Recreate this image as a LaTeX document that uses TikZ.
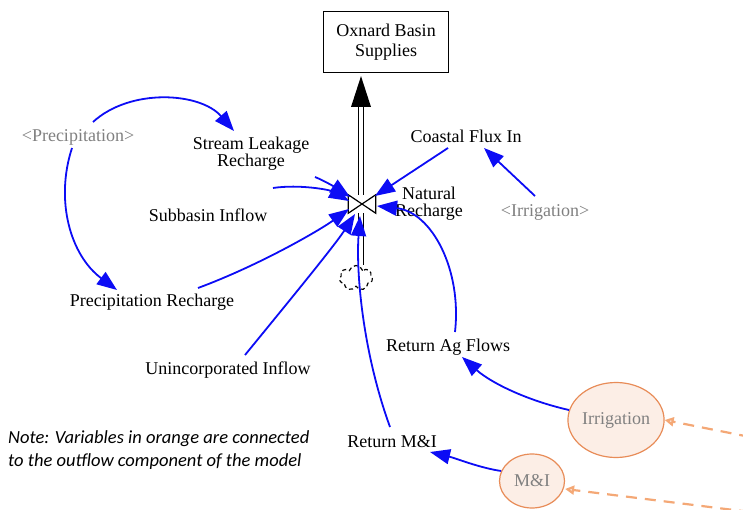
\documentclass[tikz,border=0pt]{standalone}
\usepackage{fontspec}
\setmainfont{Liberation Serif}
\newfontfamily\notefont{Carlito}
\usetikzlibrary{arrows.meta,calc,shapes.geometric,shapes.symbols}
\definecolor{linkblue}{RGB}{12,12,245}
\definecolor{orangeline}{RGB}{232,140,88}
\definecolor{orangefill}{RGB}{252,238,230}
\definecolor{orangedash}{RGB}{244,168,118}
\definecolor{ghostgray}{RGB}{128,128,128}
\tikzset{
  lbl/.style={font=\fontsize{18}{18}\selectfont, align=center, inner sep=1pt},
  ghost/.style={lbl, text=ghostgray},
  link/.style={draw=linkblue, line width=1.8pt, -{Triangle[length=20pt,width=15pt]}},
  outvar/.style={ellipse, draw=orangeline, line width=1.2pt, fill=orangefill,
    text=ghostgray, font=\fontsize{18}{18}\selectfont, inner sep=0pt},
  outlink/.style={draw=orangedash, line width=2.2pt, dash pattern=on 11pt off 8pt,
    -{Triangle[length=9pt,width=9pt,fill=orangefill]}},
}
\begin{document}
\begin{tikzpicture}[x=1pt,y=-1pt]
\useasboundingbox (0,0) rectangle (743,510);

% stock
\node[draw, line width=1.3pt, minimum width=125pt, minimum height=61pt,
  align=center, font=\fontsize{18}{20}\selectfont] (box) at (386,42)
  {Oxnard Basin\\Supplies};

% valve and source cloud
\node[minimum width=27pt, minimum height=18pt, inner sep=0pt] (valve) at (362,204) {};
\node[cloud, cloud puffs=7, draw, line width=1.2pt, dash pattern=on 4pt off 3pt,
  minimum width=33pt, minimum height=25pt, inner sep=0pt] (cloud) at (356,278) {};

% flow pipe
\coordinate (headbase) at (361,107);
\draw[double distance=4pt, line width=1.1pt] (valve.north -| headbase) -- (headbase);
\draw[double distance=4pt, line width=1.1pt] (valve.south -| headbase) -- (cloud.north -| headbase);
\fill ($(headbase)+(-10,0)$) -- ($(headbase)+(10,0)$) -- ($(headbase |- box.south)+(0,3)$) -- cycle;
\draw[line width=1.2pt, fill=white]
  (valve.north west) -- (valve.south east) -- (valve.north east) -- (valve.south west) -- cycle;

% variables
\node[ghost] (precip) at (78,137) {<Precipitation>};
\node[lbl] (slr) at (251,154) {Stream Leakage\\[-1pt]Recharge};
\node[lbl] (sub) at (208,215) {Subbasin Inflow};
\node[lbl] (prec) at (152,302) {Precipitation Recharge};
\node[lbl] (unin) at (228,370) {Unincorporated Inflow};
\node[lbl] (coast) at (466,136) {Coastal Flux In};
\node[lbl, font=\fontsize{18}{17}\selectfont] (nat) at (429,204) {Natural\\Recharge};
\node[ghost] (irrg) at (545,212) {<Irrigation>};
\node[lbl] (retag) at (448,347) {Return Ag Flows};
\node[lbl] (retmi) at (392,442) {Return M\&I};
\node[outvar, minimum width=90pt, minimum height=75pt] (irr) at (616,420) {Irrigation};
\node[outvar, minimum width=65pt, minimum height=54pt] (mi) at (532,481) {M\&I};

% links
\draw[link] ($(precip)+(15,-15)$) .. controls (130,88) and (200,92) .. ($(slr)+(-17,-23)$);
\draw[link] ($(precip)+(-6,11)$) .. controls (55,200) and (70,255) .. ($(prec)+(-35,-12)$);
\draw[link] ($(slr)+(64,23)$) .. controls (325,181) and (338,189) .. ($(valve)+(-12,-7)$);
\draw[link] ($(sub)+(65,-27)$) .. controls (300,184) and (330,190) .. ($(valve)+(-13,-3)$);
\draw[link] ($(prec)+(46,-14)$) .. controls (260,265) and (320,230) .. ($(valve)+(-13,5)$);
\draw[link] ($(unin)+(17,-15)$) .. controls (290,300) and (335,245) .. ($(valve)+(-7,10)$);
\draw[link] ($(coast)+(-18,12)$) -- ($(valve)+(13,-8)$);
\draw[link] ($(irrg)+(-10,-16)$) -- ($(coast)+(18,12)$);
\draw[link] ($(retag)+(7,-15)$) .. controls (462,270) and (432,212) .. ($(valve)+(15,2)$);
\draw[link] ($(retmi)+(-2,-15)$) .. controls (362,350) and (356,270) .. ($(valve)+(-2,12)$);
\draw[link] (irr.168) .. controls (525,400) and (490,382) .. ($(retag)+(14,10)$);
\draw[link] (mi.162) .. controls (480,468) and (455,458) .. ($(retmi)+(38,10)$);

% links from the outflow component
\coordinate (irrsrc) at (750,437);
\coordinate (misrc) at (750,512);
\draw[outlink] (irrsrc) -- (irr.east);
\draw[outlink] (misrc) -- ($(mi.east)+(0,8)$);

% note
\node[anchor=north west, align=left, inner sep=0pt,
  font=\notefont\itshape\fontsize{18.5}{23}\selectfont] (note) at (8,430)
  {Note: Variables in orange are connected\\to the outflow component of the model};
\end{tikzpicture}
\end{document}
